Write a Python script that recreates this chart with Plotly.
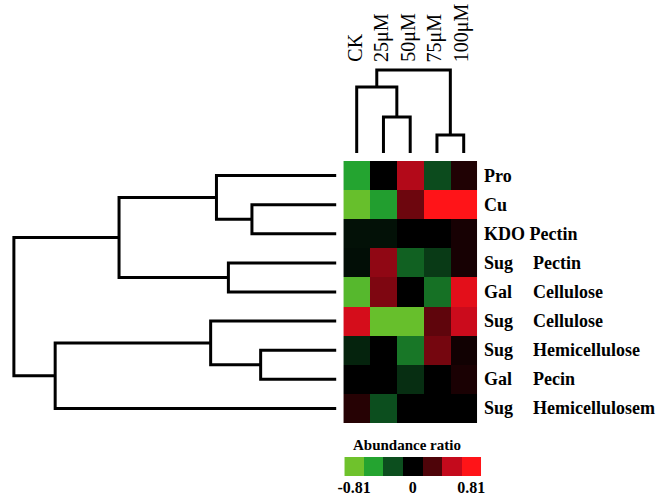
import re
import plotly.graph_objects as go

# ---------------- data ----------------
columns = ["CK", "25μM", "50μM", "75μM", "100μM"]
rows = ["Pro", "Cu", "KDO Pectin", "Sug    Pectin", "Gal    Cellulose",
        "Sug    Cellulose", "Sug    Hemicellulose", "Gal    Pecin",
        "Sug    Hemicellulosem"]
values = [
    [-0.54, 0.00, 0.50, -0.26, 0.11],
    [-0.78, -0.52, 0.34, 0.81, 0.81],
    [-0.06, -0.06, 0.00, 0.00, 0.08],
    [-0.05, 0.42, -0.33, -0.20, 0.08],
    [-0.72, 0.38, 0.00, -0.38, 0.68],
    [0.62, -0.78, -0.78, 0.31, 0.57],
    [-0.12, 0.00, -0.40, 0.36, 0.06],
    [0.00, 0.00, -0.16, 0.00, 0.09],
    [0.13, -0.27, 0.00, 0.00, 0.00],
]
# hierarchical clustering merges: (left, right, height), scipy-style ids
row_linkage = [(1, 2, 0.262), (6, 7, 0.235), (3, 4, 0.335), (0, 9, 0.372),
               (5, 10, 0.390), (12, 11, 0.674), (13, 8, 0.872), (14, 15, 1.0)]
col_linkage = [(3, 4, 0.217), (1, 2, 0.434), (0, 6, 0.795), (7, 5, 1.0)]
cbar_values = [-0.81, -0.54, -0.27, 0.0, 0.27, 0.54, 0.81]
cbar_tick_idx = [0, 3, 6]
cbar_tick_text = ["-0.81", "0", "0.81"]
cbar_title = "Abundance ratio"

# ---------------- styling ----------------
W, H = 664, 504
FONT = "Liberation Serif"
colorscale = [
    [0.0, "#6fc22c"],
    [1 / 6, "#24a430"],
    [2 / 6, "#0c4e1e"],
    [0.5, "#000000"],
    [4 / 6, "#4e0409"],
    [5 / 6, "#c40a1c"],
    [1.0, "#ff1418"],
]
ZMIN, ZMAX = -0.81, 0.81


def px_x(p):
    return p / W


def px_y(p):
    return 1 - p / H


def dendro(linkage, n):
    pos = {i: float(i) for i in range(n)}
    hgt = {i: 0.0 for i in range(n)}
    ps, hs = [], []
    for k, (a, b, h) in enumerate(linkage):
        ps += [pos[a], pos[a], pos[b], pos[b], None]
        hs += [hgt[a], h, h, hgt[b], None]
        pos[n + k] = (pos[a] + pos[b]) / 2
        hgt[n + k] = h
    return ps, hs


fig = go.Figure()

# main heatmap
fig.add_trace(go.Heatmap(
    z=values, x=list(range(len(columns))), y=list(range(len(rows))),
    colorscale=colorscale, zmin=ZMIN, zmax=ZMAX, showscale=False,
    xaxis="x", yaxis="y", xgap=0, ygap=0,
))

# column dendrogram
cp, ch = dendro(col_linkage, len(columns))
fig.add_trace(go.Scatter(x=cp, y=ch, mode="lines",
                         line=dict(color="black", width=3),
                         xaxis="x2", yaxis="y2", hoverinfo="skip",
                         showlegend=False))

# row dendrogram
rp, rh = dendro(row_linkage, len(rows))
fig.add_trace(go.Scatter(x=rh, y=rp, mode="lines",
                         line=dict(color="black", width=3),
                         xaxis="x3", yaxis="y3", hoverinfo="skip",
                         showlegend=False))

# colour key
fig.add_trace(go.Heatmap(
    z=[cbar_values], x=list(range(len(cbar_values))), y=[0],
    colorscale=colorscale, zmin=ZMIN, zmax=ZMAX, showscale=False,
    xaxis="x4", yaxis="y4",
))

hm_x = [px_x(342), px_x(478)]
hm_y = [px_y(423), px_y(161)]
xr = [-0.5, len(columns) - 0.5]
yr = [len(rows) - 0.5, -0.5]
col_root = max(h for _, _, h in col_linkage)
row_root = max(h for _, _, h in row_linkage)

hidden = dict(visible=False, showgrid=False, zeroline=False)
fig.update_layout(
    width=W, height=H,
    margin=dict(l=0, r=0, t=0, b=0),
    paper_bgcolor="white", plot_bgcolor="white",
    font=dict(family=FONT, color="black"),
    xaxis=dict(domain=hm_x, range=xr, anchor="y", **hidden),
    yaxis=dict(domain=hm_y, range=yr, anchor="x", **hidden),
    xaxis2=dict(domain=hm_x, range=xr, anchor="y2", **hidden),
    yaxis2=dict(domain=[px_y(153), px_y(60)],
                range=[0, col_root * 93 / 83], anchor="x2", **hidden),
    xaxis3=dict(domain=[0, px_x(335)],
                range=[row_root * 335 / 328, 0], anchor="y3", **hidden),
    yaxis3=dict(domain=hm_y, range=yr, anchor="x3", **hidden),
    xaxis4=dict(domain=[px_x(343), px_x(482)],
                range=[-0.5, len(cbar_values) - 0.5], anchor="y4",
                showgrid=False, zeroline=False, showline=False,
                ticks="", tickvals=cbar_tick_idx, ticktext=cbar_tick_text,
                tickfont=dict(family=FONT, size=16, color="black",
                              weight="bold")),
    yaxis4=dict(domain=[px_y(476), px_y(457)], range=[-0.5, 0.5],
                anchor="x4", **hidden),
    showlegend=False,
)

annotations = []
for i, lab in enumerate(rows):
    parts = re.split(r"\s{2,}", lab)
    xs = [483, 533]
    for j, part in enumerate(parts):
        annotations.append(dict(
            text=part, xref="paper", x=px_x(xs[j]), xanchor="left",
            yref="y", y=i, yanchor="middle", showarrow=False,
            font=dict(family=FONT, size=18, color="black", weight="bold")))
for i, lab in enumerate(columns):
    annotations.append(dict(
        text=lab, xref="x", x=i, xshift=-2, xanchor="center",
        yref="paper", y=px_y(64), yanchor="bottom", textangle=-90,
        showarrow=False, font=dict(family=FONT, size=20, color="black")))
annotations.append(dict(
    text=cbar_title, xref="paper", x=px_x(407), xanchor="center",
    yref="paper", y=px_y(445), yanchor="middle", showarrow=False,
    font=dict(family=FONT, size=15, color="black", weight="bold")))
fig.update_layout(annotations=annotations)

fig.write_html("out.html",
               config={"displayModeBar": False},
               post_script="document.body.style.margin='0px';"
                           "document.body.style.overflow='hidden';")
